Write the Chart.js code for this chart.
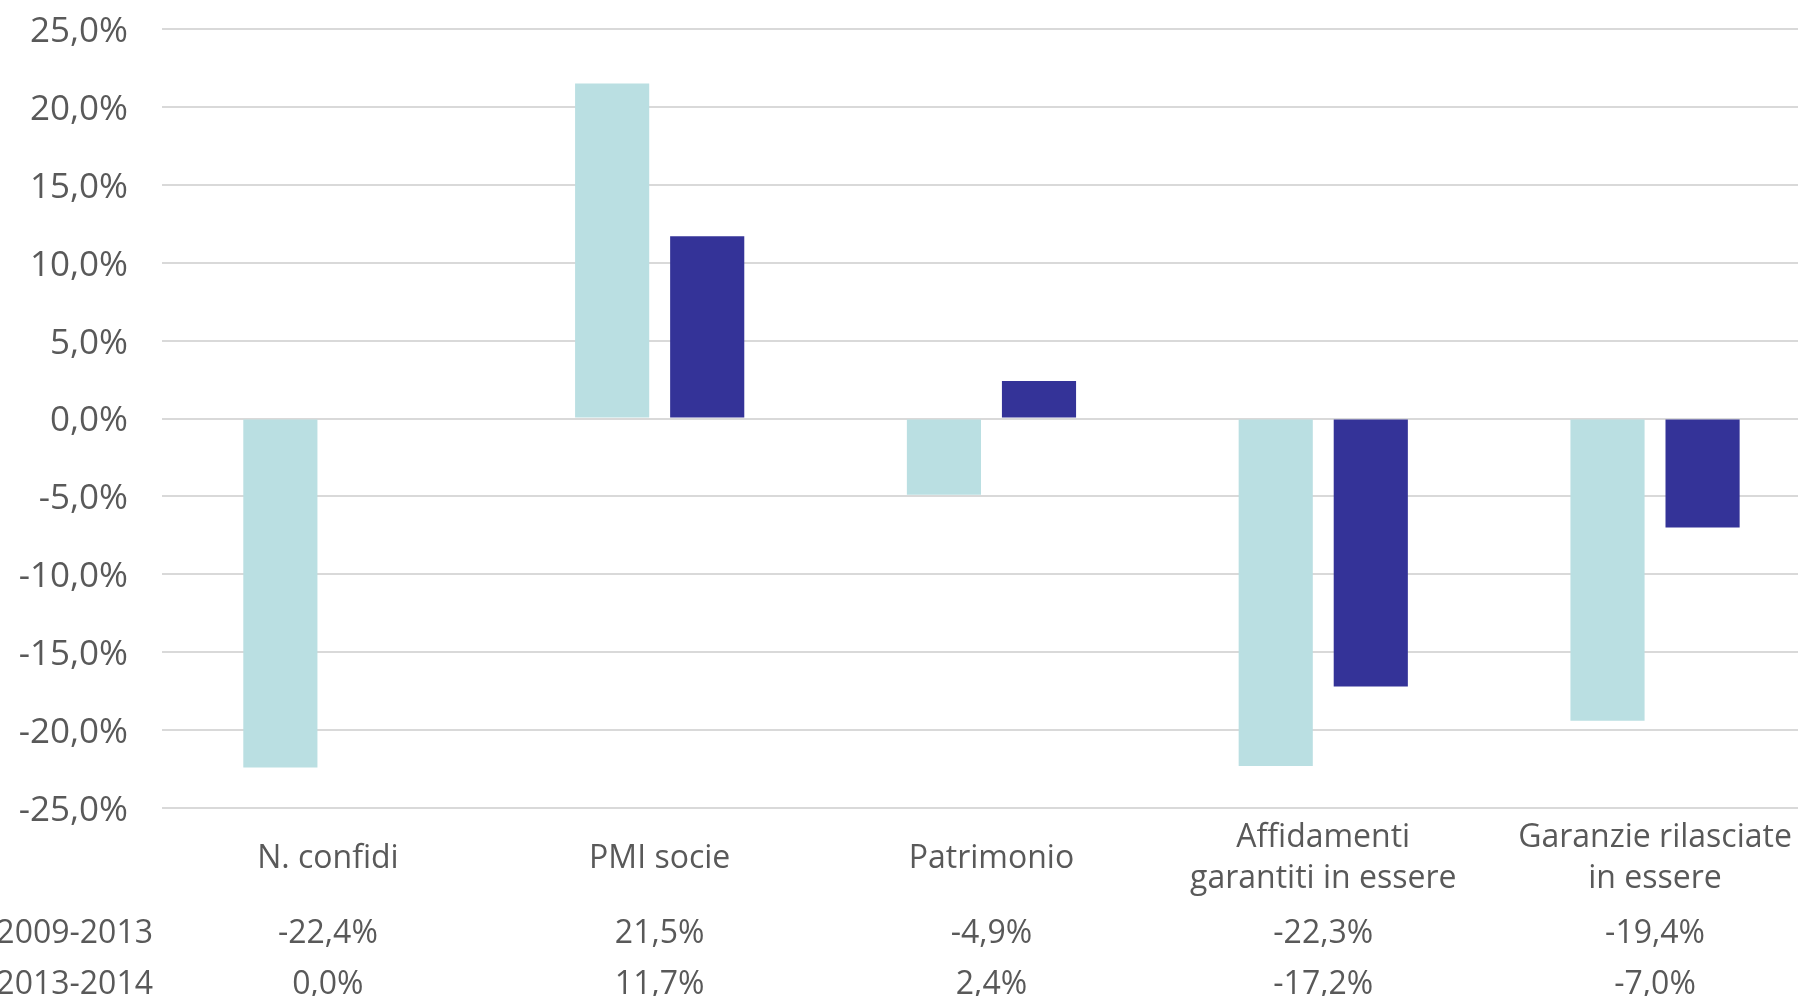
<!DOCTYPE html>
<html lang="it">
<head>
    <meta charset="UTF-8">
    <title>Confidi - variazioni</title>
    <script src="https://cdn.jsdelivr.net/npm/chart.js"></script>
    <style>
        html, body { margin: 0; padding: 0; background: #fff; }
        .wrap { width: 1798px; height: 996px; overflow: hidden; position: relative; }
        #chart { position: absolute; left: 0; top: 0; }
    </style>
</head>
<body>
    <div class="wrap">
        <canvas id="chart" width="1822" height="996"></canvas>
    </div>

    <script>
        const categories = [
            'N. confidi',
            'PMI socie',
            'Patrimonio',
            ['Affidamenti', 'garantiti in essere'],
            ['Garanzie rilasciate', 'in essere']
        ];
        const seriesNames = ['2009-2013', '2013-2014'];
        const values0913 = [-22.4, 21.5, -4.9, -22.3, -19.4];
        const values1314 = [0.0, 11.7, 2.4, -17.2, -7.0];
        const yTicks = [-25, -20, -15, -10, -5, 0, 5, 10, 15, 20, 25];

        const textColor = '#595959';
        const fontFamily = '"Open Sans"';
        const fmt = v => v.toFixed(1).replace('.', ',') + '%';

        // data table under the axis
        const tablePlugin = {
            id: 'dataTable',
            afterDraw(chart) {
                const ctx = chart.ctx;
                const xs = chart.scales.x;
                const rows = [values0913, values1314];
                const rowY = [934, 985];
                ctx.save();
                ctx.font = '32px ' + fontFamily;
                ctx.fillStyle = textColor;
                ctx.textBaseline = 'middle';
                rows.forEach((row, r) => {
                    ctx.textAlign = 'right';
                    ctx.fillText(seriesNames[r], 153, rowY[r]);
                    ctx.textAlign = 'center';
                    row.forEach((v, i) => {
                        ctx.fillText(fmt(v), xs.getPixelForValue(i), rowY[r]);
                    });
                });
                ctx.restore();
            }
        };

        new Chart(document.getElementById('chart'), {
            type: 'bar',
            data: {
                labels: categories,
                datasets: [
                    {
                        label: seriesNames[0],
                        data: values0913,
                        backgroundColor: '#badfe2',
                        categoryPercentage: 0.573,
                        barPercentage: 0.78
                    },
                    {
                        label: seriesNames[1],
                        data: values1314,
                        backgroundColor: '#343398',
                        categoryPercentage: 0.573,
                        barPercentage: 0.78
                    }
                ]
            },
            options: {
                responsive: false,
                animation: false,
                layout: { padding: { top: 29, right: 1, left: 0, bottom: 0 } },
                plugins: {
                    legend: { display: false },
                    tooltip: { enabled: false }
                },
                scales: {
                    x: {
                        grid: { display: false, drawTicks: false },
                        border: { display: false },
                        ticks: {
                            color: textColor,
                            font: { family: fontFamily, size: 32, lineHeight: 41 / 32 },
                            padding: 30,
                            maxRotation: 0,
                            autoSkip: false,
                            crossAlign: 'center'
                        },
                        afterFit(scale) { scale.height = 188; }
                    },
                    y: {
                        min: yTicks[0],
                        max: yTicks[yTicks.length - 1],
                        afterBuildTicks(scale) {
                            scale.ticks = yTicks.map(v => ({ value: v }));
                        },
                        grid: { color: '#d9d9d9', lineWidth: 2, drawTicks: false },
                        border: { display: false },
                        ticks: {
                            color: textColor,
                            font: { family: fontFamily, size: 35 },
                            padding: 34,
                            labelOffset: 3,
                            callback: v => fmt(v)
                        },
                        afterFit(scale) {
                            scale.width = 162;
                            // tick padding should not push the plot area down
                            scale.paddingTop = 0;
                            scale.paddingBottom = 0;
                        }
                    }
                }
            },
            plugins: [tablePlugin]
        });
    </script>
</body>
</html>
